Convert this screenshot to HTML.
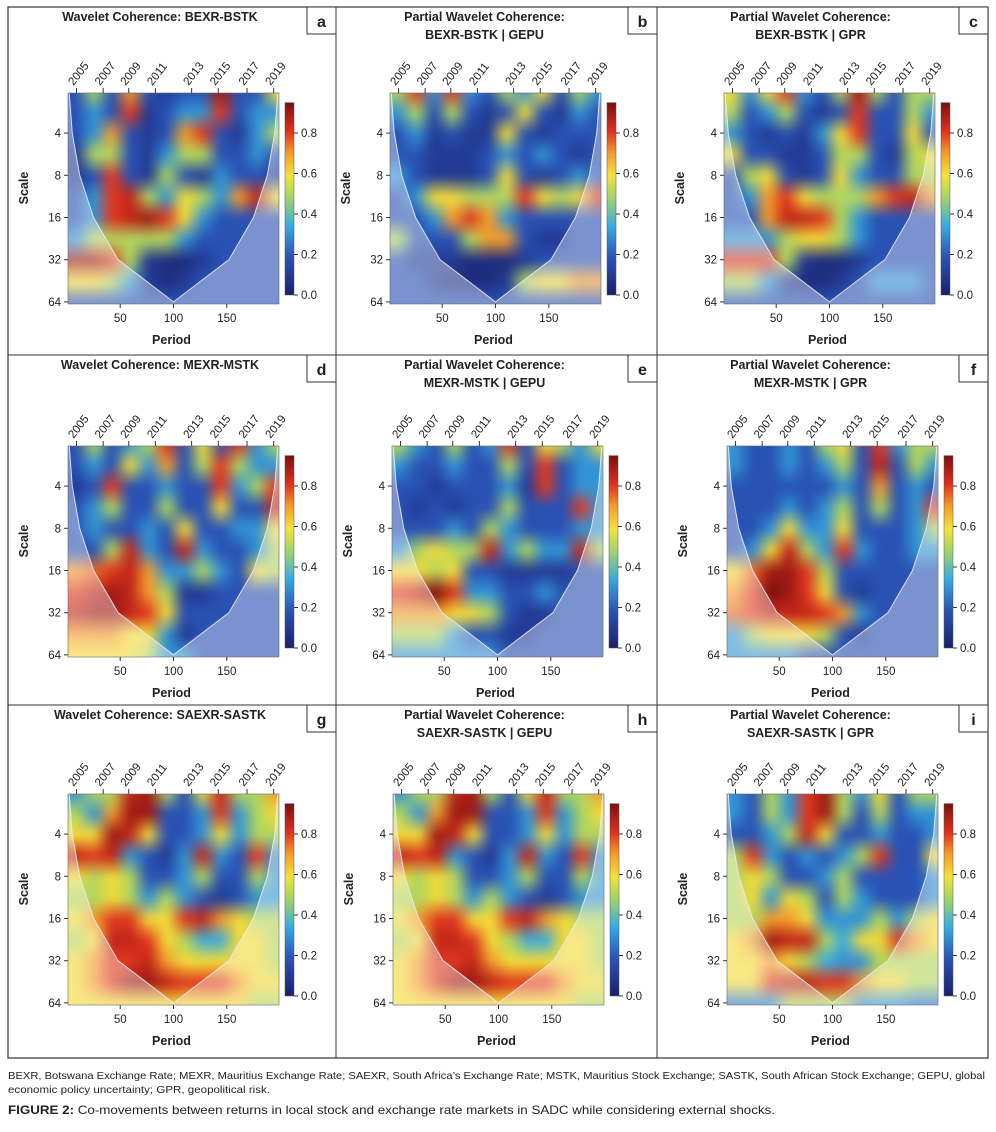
<!DOCTYPE html>
<html><head><meta charset="utf-8">
<style>
body{margin:0;background:#fff;}
svg text{font-family:"Liberation Sans",sans-serif;fill:#222;}
canvas{display:block;image-rendering:auto;filter:blur(3.5px);}
</style></head>
<body>
<svg id="fig" width="996" height="1127" viewBox="0 0 996 1127" xmlns="http://www.w3.org/2000/svg">
<defs>
<linearGradient id="cbar" x1="0" y1="1" x2="0" y2="0">
<stop offset="0" stop-color="#1b1f6b"/><stop offset="0.2" stop-color="#2a55b8"/>
<stop offset="0.36" stop-color="#37ace0"/><stop offset="0.5" stop-color="#9fd36a"/>
<stop offset="0.62" stop-color="#f3e23a"/><stop offset="0.74" stop-color="#f39a2c"/>
<stop offset="0.85" stop-color="#e0301e"/><stop offset="1" stop-color="#7a1010"/>
</linearGradient>
</defs>
<rect x="8" y="7" width="980" height="1051" fill="none" stroke="#333" stroke-width="1.2"/>
<line x1="8" y1="355" x2="988" y2="355" stroke="#333"/>
<line x1="8" y1="705" x2="988" y2="705" stroke="#333"/>
<line x1="336" y1="7" x2="336" y2="1058" stroke="#333"/>
<line x1="657" y1="7" x2="657" y2="1058" stroke="#333"/>
<text x="8" y="1079" font-size="10.5" textLength="977" lengthAdjust="spacingAndGlyphs">BEXR, Botswana Exchange Rate; MEXR, Mauritius Exchange Rate; SAEXR, South Africa’s Exchange Rate; MSTK, Mauritius Stock Exchange; SASTK, South African Stock Exchange; GEPU, global</text>
<text x="8" y="1093" font-size="10.5" textLength="262" lengthAdjust="spacingAndGlyphs">economic policy uncertainty; GPR, geopolitical risk.</text>
<text x="8" y="1114" font-size="12" textLength="767" lengthAdjust="spacingAndGlyphs"><tspan font-weight="bold">FIGURE 2:</tspan> Co-movements between returns in local stock and exchange rate markets in SADC while considering external shocks.</text>
</svg>
<script>
const scaleRows=[1,1.5,2,2.5,3,3.5,4,4.5,5,5.5,6];
const periodCols=[8,25,42,58,75,92,108,125,142,158,175,192];
const scaleTicks=[4,8,16,32,64];
const periodTicks=[50,100,150];
const yearLabels=["2005","2007","2009","2011","2013","2015","2017","2019"];
const yearPeriods=[9,34,58,83,117,142,169,194];
const cbTicks=[0,0.2,0.4,0.6,0.8];
const coneScale=[1,2,3,4,5,6];
const conePeriod=[2,5,12,25,48,100];

const valsA=[
[.18,.5,.18,.7,.18,.1,.18,.18,.9,.18,.18,.6],[.18,.3,.18,.8,.1,.18,.3,.3,.8,.18,.3,.3],[.18,.3,.7,.18,.1,.18,.7,.8,.18,.1,.3,.5],
[.1,.5,.5,.18,.1,.3,.5,.5,.18,.18,.3,.18],[.1,.18,.8,.18,.1,.5,.18,.1,.3,.18,.18,.1],[.18,.3,.8,.85,.5,.3,.6,.5,.3,.7,.85,.6],
[.18,.3,.8,.85,.9,.8,.6,.3,.18,.18,.18,.18],[.3,.5,.5,.5,.5,.5,.3,.18,.18,.18,.18,.18],[.9,.9,.8,.5,.1,.05,.05,.1,.18,.18,.18,.18],
[.6,.6,.5,.3,.1,.05,.1,.18,.18,.18,.18,.18],[.18,.18,.18,.18,.18,.18,.18,.18,.18,.18,.18,.18]];
const valsB=[
[.5,.8,.3,.8,.3,.18,.5,.3,.6,.18,.5,.3],[.3,.5,.18,.5,.18,.1,.18,.6,.18,.1,.3,.18],[.18,.3,.1,.18,.1,.1,.6,.18,.1,.18,.18,.18],
[.18,.18,.1,.1,.1,.18,.3,.18,.3,.18,.1,.18],[.3,.18,.1,.1,.1,.18,.6,.18,.1,.18,.3,.18],[.18,.3,.6,.6,.5,.5,.5,.8,.6,.5,.6,.8],
[.18,.18,.3,.7,.8,.7,.3,.18,.18,.18,.18,.18],[.5,.18,.18,.18,.5,.7,.7,.18,.1,.1,.18,.18],[.18,.1,.1,.1,.05,.05,.05,.1,.18,.18,.18,.18],
[.18,.18,.1,.05,.05,.05,.1,.5,.6,.6,.7,.7],[.18,.18,.18,.18,.18,.18,.18,.18,.18,.18,.18,.18]];
const valsC=[
[.6,.3,.6,.8,.3,.18,.5,.9,.5,.18,.5,.5],[.5,.18,.3,.5,.18,.1,.18,.8,.18,.18,.5,.3],[.3,.18,.1,.18,.1,.3,.6,.8,.18,.18,.6,.18],
[.6,.18,.18,.1,.1,.18,.5,.5,.18,.1,.5,.6],[.18,.5,.6,.18,.1,.18,.6,.3,.18,.18,.5,.5],[.18,.3,.7,.8,.6,.5,.5,.5,.7,.8,.85,.7],
[.18,.18,.7,.85,.85,.8,.5,.3,.18,.18,.18,.18],[.3,.3,.3,.5,.6,.6,.5,.3,.18,.18,.18,.18],[.8,.8,.8,.5,.1,.05,.05,.1,.18,.18,.18,.18],
[.5,.5,.3,.1,.05,.05,.1,.18,.3,.3,.3,.18],[.18,.18,.18,.18,.18,.18,.18,.18,.18,.18,.18,.18]];
const valsD=[
[.18,.5,.18,.3,.5,.8,.18,.6,.18,.8,.3,.5],[.18,.3,.18,.6,.3,.7,.18,.5,.8,.5,.3,.3],[.1,.18,.8,.18,.18,.3,.18,.18,.8,.3,.5,.8],
[.18,.3,.5,.18,.18,.5,.18,.18,.6,.18,.18,.85],[.18,.3,.18,.18,.3,.18,.6,.18,.18,.3,.3,.6],[.18,.18,.5,.85,.3,.18,.85,.3,.18,.18,.3,.5],
[.7,.75,.8,.85,.7,.3,.3,.5,.3,.18,.6,.5],[.8,.85,.9,.85,.7,.5,.1,.1,.18,.18,.18,.18],[.85,.9,.9,.85,.8,.6,.18,.18,.18,.18,.18,.18],
[.7,.7,.7,.6,.6,.3,.1,.18,.18,.18,.18,.18],[.6,.6,.6,.6,.5,.3,.3,.18,.18,.18,.18,.18]];
const valsE=[
[.5,.3,.18,.5,.18,.3,.8,.18,.6,.5,.3,.6],[.3,.18,.18,.3,.18,.18,.5,.18,.8,.18,.3,.3],[.18,.18,.1,.18,.18,.18,.3,.1,.8,.18,.3,.3],
[.18,.1,.18,.1,.18,.18,.5,.18,.18,.18,.8,.3],[.18,.18,.18,.3,.18,.5,.3,.18,.18,.18,.3,.3],[.3,.5,.6,.5,.5,.85,.3,.5,.3,.3,.85,.5],
[.6,.6,.5,.6,.18,.18,.1,.1,.1,.1,.18,.18],[.8,.85,.95,.8,.3,.3,.18,.18,.3,.18,.18,.18],[.7,.7,.7,.6,.6,.5,.18,.1,.1,.18,.18,.18],
[.5,.5,.5,.3,.18,.18,.1,.1,.18,.18,.18,.18],[.3,.3,.3,.3,.3,.3,.18,.18,.18,.18,.18,.18]];
const valsF=[
[.3,.18,.18,.3,.18,.5,.6,.18,.8,.3,.5,.5],[.3,.18,.18,.3,.18,.3,.5,.18,.85,.18,.5,.3],[.18,.18,.18,.18,.18,.18,.3,.18,.7,.18,.3,.18],
[.18,.18,.18,.3,.18,.3,.5,.18,.5,.18,.3,.8],[.18,.18,.3,.6,.3,.3,.6,.18,.18,.18,.3,.5],[.18,.3,.6,.85,.5,.3,.8,.3,.18,.18,.3,.3],
[.6,.75,.9,.9,.8,.5,.18,.18,.18,.18,.18,.18],[.7,.8,.95,.9,.8,.6,.18,.1,.18,.18,.18,.18],[.75,.8,.85,.85,.85,.8,.7,.3,.18,.18,.18,.18],
[.3,.5,.6,.6,.6,.5,.18,.1,.18,.18,.18,.18],[.3,.3,.3,.3,.18,.18,.18,.18,.18,.18,.18,.18]];
const valsG=[
[.3,.5,.5,.85,.9,.5,.18,.6,.85,.5,.5,.7],[.5,.3,.7,.9,.9,.18,.18,.3,.8,.3,.5,.6],[.6,.6,.9,.85,.6,.18,.18,.3,.6,.3,.5,.5],
[.85,.8,.85,.3,.18,.1,.3,.85,.3,.18,.8,.3],[.6,.5,.6,.5,.18,.18,.3,.5,.18,.18,.5,.3],[.5,.5,.6,.5,.3,.5,.3,.18,.1,.18,.3,.3],
[.6,.7,.8,.8,.6,.6,.8,.85,.7,.6,.5,.5],[.5,.6,.85,.85,.8,.6,.5,.35,.35,.6,.6,.5],[.6,.7,.8,.8,.85,.7,.6,.6,.6,.6,.6,.5],
[.6,.7,.8,.9,.9,.85,.8,.8,.8,.7,.6,.6],[.6,.6,.6,.6,.6,.6,.6,.6,.6,.6,.5,.5]];
const valsH=[
[.3,.5,.5,.85,.9,.5,.18,.6,.85,.5,.5,.7],[.5,.3,.7,.9,.9,.18,.18,.3,.8,.3,.5,.6],[.6,.6,.9,.85,.6,.18,.18,.3,.6,.3,.5,.5],
[.85,.8,.85,.3,.18,.1,.3,.85,.3,.18,.8,.3],[.6,.5,.6,.5,.18,.18,.3,.5,.18,.18,.5,.3],[.5,.5,.6,.5,.3,.5,.3,.18,.1,.18,.3,.3],
[.6,.7,.8,.8,.6,.6,.8,.85,.7,.6,.5,.5],[.5,.6,.85,.85,.8,.6,.5,.35,.35,.6,.6,.5],[.6,.7,.8,.8,.85,.7,.6,.6,.6,.6,.6,.5],
[.6,.7,.8,.9,.9,.85,.8,.8,.8,.7,.6,.6],[.6,.6,.6,.6,.6,.6,.6,.6,.6,.6,.5,.5]];
const valsI=[
[.3,.18,.5,.3,.8,.9,.5,.3,.6,.18,.5,.5],[.3,.18,.5,.3,.8,.9,.5,.18,.5,.18,.3,.3],[.18,.18,.3,.5,.85,.6,.18,.18,.3,.18,.18,.3],
[.5,.8,.3,.18,.3,.18,.3,.5,.8,.18,.18,.6],[.5,.6,.5,.18,.18,.3,.5,.18,.18,.18,.18,.3],[.5,.6,.3,.6,.5,.18,.5,.3,.18,.18,.18,.3],
[.5,.5,.7,.7,.6,.3,.3,.3,.5,.3,.5,.6],[.6,.7,.9,.85,.85,.5,.35,.6,.6,.8,.7,.6],[.6,.6,.7,.6,.5,.35,.3,.3,.5,.5,.5,.5],
[.6,.6,.8,.85,.85,.8,.8,.7,.6,.6,.5,.5],[.25,.25,.3,.5,.5,.5,.5,.3,.3,.3,.25,.25]];

const panels=[
 {id:'a',px:68,py:93,t:['Wavelet Coherence: BEXR-BSTK'],v:valsA},
 {id:'b',px:390,py:93,t:['Partial Wavelet Coherence:','BEXR-BSTK | GEPU'],v:valsB},
 {id:'c',px:724,py:93,t:['Partial Wavelet Coherence:','BEXR-BSTK | GPR'],v:valsC},
 {id:'d',px:68,py:446,t:['Wavelet Coherence: MEXR-MSTK'],v:valsD},
 {id:'e',px:392,py:446,t:['Partial Wavelet Coherence:','MEXR-MSTK | GEPU'],v:valsE},
 {id:'f',px:727,py:446,t:['Partial Wavelet Coherence:','MEXR-MSTK | GPR'],v:valsF},
 {id:'g',px:68,py:794,t:['Wavelet Coherence: SAEXR-SASTK'],v:valsG},
 {id:'h',px:393,py:794,t:['Partial Wavelet Coherence:','SAEXR-SASTK | GEPU'],v:valsH},
 {id:'i',px:727,py:794,t:['Partial Wavelet Coherence:','SAEXR-SASTK | GPR'],v:valsI}
];
const colStarts=[8,336,657], colEnds=[336,657,988], rowTops=[7,355,705];
const W=211,H=211;
const NS='http://www.w3.org/2000/svg';
const svg=document.getElementById('fig');
function mk(tag,attrs,parent){const e=document.createElementNS(NS,tag);for(const k in attrs)e.setAttribute(k,attrs[k]);(parent||svg).appendChild(e);return e;}
const stops=[[0,[27,31,107]],[.2,[42,85,184]],[.36,[55,172,224]],[.5,[159,211,106]],[.62,[243,226,58]],[.74,[243,154,44]],[.85,[224,48,30]],[1,[122,16,16]]];
function rgb(v){v=Math.max(0,Math.min(1,v/0.95));for(let i=1;i<stops.length;i++){if(v<=stops[i][0]){const a=stops[i-1],b=stops[i],t=(v-a[0])/(b[0]-a[0]);return a[1].map((c,j)=>Math.round(c+(b[1][j]-c)*t));}}return [122,16,16];}
const L2MIN=1.05,L2MAX=6.05;

panels.forEach((p,pi)=>{
 const col=pi%3,row=Math.floor(pi/3);
 const xs=per=>p.px+(per-1)/198*W;
 const ys=l2=>p.py+(l2-L2MIN)/(L2MAX-L2MIN)*H;
 const g=mk('g',{});
 
 
 const cx=(colStarts[col]+colEnds[col])/2-12, rt=rowTops[row];
 p.t.forEach((line,li)=>{const t=mk('text',{x:cx,y:rt+14+li*18,'text-anchor':'middle','font-size':'12.5','font-weight':'bold'},g);t.textContent=line;
  });
 const bx=colEnds[col]-29;
 const box=mk('rect',{x:bx,y:rt,width:29,height:27,fill:'#fff',stroke:'#333'},g);
 
 const lb=mk('text',{x:bx+14.5,y:rt+20,'text-anchor':'middle','font-size':'16','font-weight':'bold'},g);lb.textContent=p.id;
 
 // heatmap: small canvas (edge-padded) upscaled with smoothing + blur
 const nC=periodCols.length,nR=scaleRows.length;
 const cw=(xs(periodCols[1])-xs(periodCols[0])), ch=(ys(scaleRows[1])-ys(scaleRows[0]));
 const x0=xs(periodCols[0])-cw*1.5, y0=ys(scaleRows[0])-ch*1.5;
 const fo=mk('foreignObject',{x:p.px,y:p.py,width:W,height:H},g);
 
 const wrap=document.createElement('div');
 wrap.style.cssText='width:'+W+'px;height:'+H+'px;overflow:hidden;position:relative;';
 fo.appendChild(wrap);
 const cv=document.createElement('canvas');cv.width=nC+2;cv.height=nR+2;
 cv.style.cssText='position:absolute;left:'+(x0-p.px)+'px;top:'+(y0-p.py)+'px;width:'+(cw*(nC+2))+'px;height:'+(ch*(nR+2))+'px;';
 wrap.appendChild(cv);
 const ctx=cv.getContext('2d');const img=ctx.createImageData(nC+2,nR+2);
 for(let r=0;r<nR+2;r++)for(let c=0;c<nC+2;c++){
  const ri=Math.min(nR-1,Math.max(0,r-1)),ci=Math.min(nC-1,Math.max(0,c-1));
  const col3=rgb(p.v[ri][ci]),k=(r*(nC+2)+c)*4;
  img.data[k]=col3[0];img.data[k+1]=col3[1];img.data[k+2]=col3[2];img.data[k+3]=255;}
 ctx.putImageData(img,0,0);
 let left=coneScale.map((s,i)=>[xs(conePeriod[i]),ys(s)]);
 let right=coneScale.map((s,i)=>[xs(200-conePeriod[i]),ys(s)]).reverse();
 const pts=left.concat(right);
 let d='M'+p.px+','+p.py+' L'+pts.map(q=>q.join(',')).join(' L')+' L'+(p.px+W)+','+p.py+' L'+(p.px+W)+','+(p.py+H)+' L'+p.px+','+(p.py+H)+' Z';
 const co=mk('path',{d:d,fill:'rgba(255,255,255,0.38)','fill-rule':'evenodd'},g);
 
 const cl=mk('polyline',{points:pts.map(q=>q.join(',')).join(' '),fill:'none',stroke:'rgba(235,235,245,0.9)','stroke-width':'1'},g);
 
 mk('rect',{x:p.px,y:p.py,width:W,height:H,fill:'none',stroke:'#666','stroke-width':'0.6'},g);
 scaleTicks.forEach(s=>{const y=ys(Math.log2(s));mk('line',{x1:p.px-4,x2:p.px,y1:y,y2:y,stroke:'#333'},g);
  const t=mk('text',{x:p.px-7,y:y+4,'text-anchor':'end','font-size':'11.5'},g);t.textContent=s;
  });
 const yt=mk('text',{x:0,y:0,'text-anchor':'middle','font-size':'12.5','font-weight':'bold',transform:'translate('+(p.px-40)+','+(p.py+95)+') rotate(-90)'},g);yt.textContent='Scale';
 
 periodTicks.forEach(v=>{const x=xs(v);mk('line',{x1:x,x2:x,y1:p.py+H,y2:p.py+H+4,stroke:'#333'},g);
  const t=mk('text',{x:x,y:p.py+H+18,'text-anchor':'middle','font-size':'11.5'},g);t.textContent=v;
  });
 const xt=mk('text',{x:p.px+W/2-2,y:p.py+H+40,'text-anchor':'middle','font-size':'12.5','font-weight':'bold'},g);xt.textContent='Period';
 
 yearLabels.forEach((yl,i)=>{const x=xs(yearPeriods[i]);mk('line',{x1:x,x2:x,y1:p.py-5,y2:p.py,stroke:'#333'},g);
  const t=mk('text',{x:0,y:0,'font-size':'11.5',transform:'translate('+(x-3)+','+(p.py-7)+') rotate(-52)'},g);t.textContent=yl;
  });
 const cbx=p.px+W+6, cb0=p.py+H-9, per02=40.5;
 const cb=mk('rect',{x:cbx,y:cb0-per02*4.75,width:9,height:per02*4.75,fill:'url(#cbar)',stroke:'#555','stroke-width':'0.5'},g);
 
 cbTicks.forEach(v=>{const y=cb0-v/0.2*per02;mk('line',{x1:cbx+9,x2:cbx+13,y1:y,y2:y,stroke:'#333'},g);
  const t=mk('text',{x:cbx+16,y:y+4,'font-size':'11.5'},g);t.textContent=v.toFixed(1);
  });
});
</script>
</body></html>
